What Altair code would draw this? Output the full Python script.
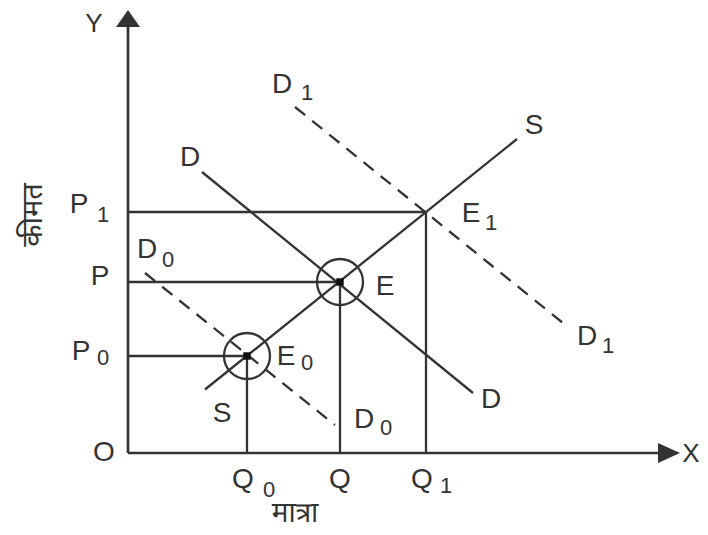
import altair as alt
import pandas as pd

# ---- data (units: quantity on x, price on y) ----
X_MAX = 110.4
Y_MAX = 88.6

# equilibrium quantities / prices  (Q0,P0) (Q,P) (Q1,P1)
Q_VALS = [23.8, 42.4, 59.6]
P_VALS = [19.4, 34.2, 48.2]

# curves: start and end points
SUPPLY = [(15.4, 12.7), (77.8, 62.8)]
DEMAND = [(14.8, 56.2), (69.0, 12.0)]
DEMAND0 = [(3.4, 36.0), (41.4, 5.6)]
DEMAND1 = [(33.4, 69.2), (87.0, 26.0)]

# axis line ends and arrow heads
AXIS_Y_END = 86.0
AXIS_X_END = 108.0
ARROW_Y = (0.0, 86.9)
ARROW_X = (108.2, 0.0)

# labels: (text, x, y)
AXIS_LETTERS = [("Y", -6.8, 84.2), ("X", 112.6, -1.8)]
MAIN_LABELS = [
    ("O", -4.8, -1.6),
    ("P", -9.8, 48.0), ("P", -5.6, 33.6), ("P", -9.4, 18.6),
    ("D", 3.8, 39.0), ("D", 30.8, 72.0), ("D", 12.4, 57.4),
    ("S", 81.2, 63.8), ("E", 68.6, 46.2), ("E", 51.4, 31.6),
    ("E", 31.6, 17.6), ("D", 91.8, 21.6), ("D", 72.6, 9.0),
    ("S", 18.8, 6.2), ("D", 47.2, 5.0),
    ("Q", 23.0, -7.0), ("Q", 42.4, -7.0), ("Q", 58.8, -7.0),
]
SUB_LABELS = [
    ("1", -5.0, 46.2), ("0", -5.0, 17.6),
    ("0", 8.0, 37.2), ("1", 35.8, 70.6),
    ("1", 72.6, 44.6), ("0", 35.8, 16.6),
    ("1", 96.0, 20.0), ("0", 51.6, 3.6),
    ("0", 28.2, -8.8), ("1", 63.6, -8.0),
]
X_TITLE = ("मात्रा", 33.4, -12.2)
Y_TITLE = ("कीमत", -19.0, 47.6)

# ---- build tables ----
INK = "#333333"
xs = alt.Scale(domain=[0, X_MAX], nice=False, zero=False)
ys = alt.Scale(domain=[0, Y_MAX], nice=False, zero=False)


def seg(a, b):
    return {"x": a[0], "y": a[1], "x2": b[0], "y2": b[1]}


solid = [seg(*SUPPLY), seg(*DEMAND)]
for q, p in zip(Q_VALS, P_VALS):
    solid.append(seg((0, p), (q, p)))
    solid.append(seg((q, 0), (q, p)))
dashed = [seg(*DEMAND0), seg(*DEMAND1)]
axes = [seg((0, 0), (0, AXIS_Y_END)), seg((0, 0), (AXIS_X_END, 0))]

solid_df = pd.DataFrame(solid)
dashed_df = pd.DataFrame(dashed)
axes_df = pd.DataFrame(axes)
eq_df = pd.DataFrame({"x": Q_VALS[:2], "y": P_VALS[:2]})
axis_df = pd.DataFrame(AXIS_LETTERS, columns=["t", "x", "y"])
main_df = pd.DataFrame(MAIN_LABELS, columns=["t", "x", "y"])
sub_df = pd.DataFrame(SUB_LABELS, columns=["t", "x", "y"])
xt_df = pd.DataFrame([X_TITLE], columns=["t", "x", "y"])
yt_df = pd.DataFrame([Y_TITLE], columns=["t", "x", "y"])
ay_df = pd.DataFrame([{"x": ARROW_Y[0], "y": ARROW_Y[1]}])
ax_df = pd.DataFrame([{"x": ARROW_X[0], "y": ARROW_X[1]}])


def rule_enc(ch):
    return ch.encode(
        x=alt.X("x:Q", scale=xs, axis=None),
        y=alt.Y("y:Q", scale=ys, axis=None),
        x2="x2:Q",
        y2="y2:Q",
    )


def pos(ch):
    return ch.encode(
        x=alt.X("x:Q", scale=xs, axis=None),
        y=alt.Y("y:Q", scale=ys, axis=None),
    )


solid_l = rule_enc(alt.Chart(solid_df).mark_rule(color=INK, strokeWidth=2.3))
dashed_l = rule_enc(alt.Chart(dashed_df).mark_rule(color=INK, strokeWidth=2.3, strokeDash=[13, 9]))
axes_l = rule_enc(alt.Chart(axes_df).mark_rule(color=INK, strokeWidth=2.7))

rings = pos(alt.Chart(eq_df).mark_point(shape="circle", size=2116, filled=False,
                                         color=INK, strokeWidth=2.3, opacity=1))
dots = pos(alt.Chart(eq_df).mark_point(shape="square", size=56, filled=True,
                                        color="#111111", opacity=1))

arrow_up = pos(alt.Chart(ay_df).mark_point(shape="M0,-0.7L-1,0.7L1,0.7Z", size=576,
                                            filled=True, color=INK, opacity=1))
arrow_right = pos(alt.Chart(ax_df).mark_point(shape="M1,0L-1,-0.9L-1,0.9Z", size=484,
                                               filled=True, color=INK, opacity=1))

axis_t = pos(alt.Chart(axis_df).mark_text(font="Liberation Sans", fontSize=26, color=INK,
                                           align="center", baseline="alphabetic")).encode(text="t:N")
main_t = pos(alt.Chart(main_df).mark_text(font="Liberation Sans", fontSize=28, color=INK,
                                           align="center", baseline="alphabetic")).encode(text="t:N")
sub_t = pos(alt.Chart(sub_df).mark_text(font="Liberation Sans", fontSize=22, color=INK,
                                         align="center", baseline="alphabetic")).encode(text="t:N")
dev_font = "Noto Sans Devanagari, Lohit Devanagari, Mangal, Noto Sans, sans-serif"
xt = pos(alt.Chart(xt_df).mark_text(font=dev_font, fontSize=28, color=INK,
                                     align="center", baseline="middle")).encode(text="t:N")
yt = pos(alt.Chart(yt_df).mark_text(font=dev_font, fontSize=29, color=INK, angle=270,
                                     align="center", baseline="middle")).encode(text="t:N")

chart = alt.layer(
    solid_l, dashed_l, axes_l, rings, dots, arrow_up, arrow_right,
    axis_t, main_t, sub_t, xt, yt
).properties(
    width=552,
    height=443,
    autosize=alt.AutoSizeParams(type="none"),
    padding={"left": 120, "top": 2, "right": 20, "bottom": 80},
).configure_view(stroke=None)

chart.save("out.html", embed_options={"renderer": "svg", "actions": False})
